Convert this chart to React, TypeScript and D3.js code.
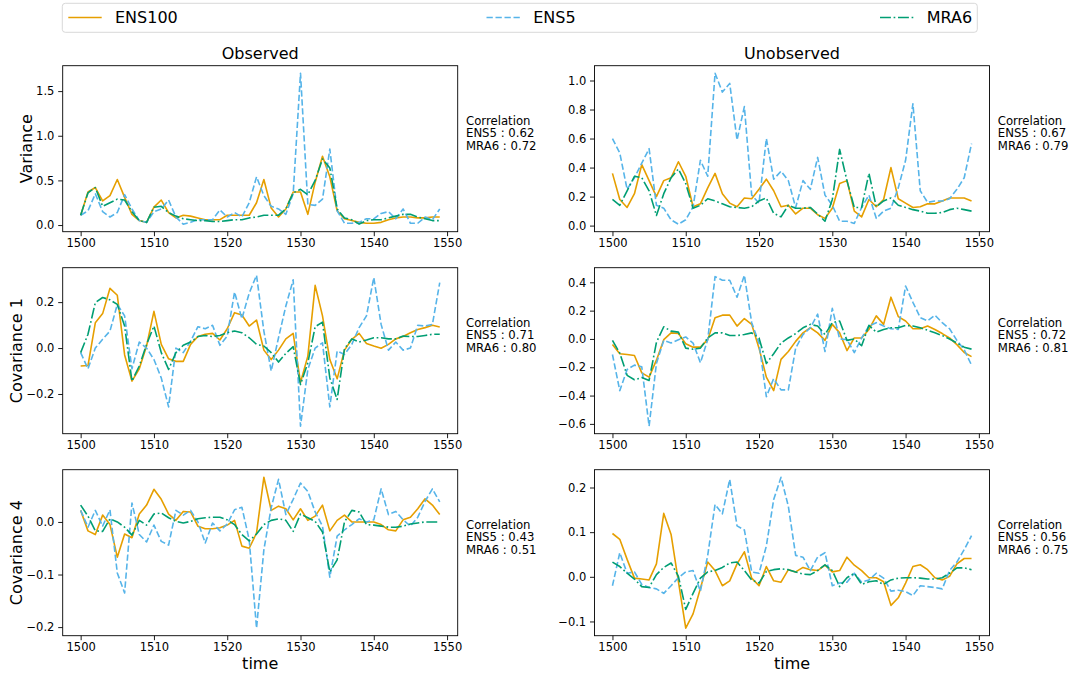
import { axisBottom, axisLeft, extent, format, line, range, scaleLinear, select } from "d3";
import { useEffect, useRef } from "react";

const years = range(1500, 1550);
const xTicks = [1500, 1510, 1520, 1530, 1540, 1550];
const seriesNames = ["ENS100", "ENS5", "MRA6"];
const seriesColors = ["#E69F00", "#56B4E9", "#009E73"];
const seriesDash = ["none", "6.3,2.7", "10.9,2.7,1.7,2.7"];
const rowLabels = ["Variance", "Covariance 1", "Covariance 4"];
const colTitles = ["Observed", "Unobserved"];

// Variance
const obsVarEns100 = [0.11, 0.37, 0.42, 0.27, 0.33, 0.51, 0.31, 0.12, 0.05, 0.03, 0.2, 0.28, 0.14, 0.08, 0.11, 0.1, 0.08, 0.06, 0.06, 0.06, 0.11, 0.11, 0.11, 0.11, 0.25, 0.51, 0.19, 0.09, 0.18, 0.37, 0.37, 0.12, 0.48, 0.77, 0.54, 0.16, 0.07, 0.05, 0.03, 0.02, 0.02, 0.03, 0.06, 0.08, 0.09, 0.09, 0.08, 0.08, 0.09, 0.09];
const obsVarEns5 = [0.11, 0.16, 0.35, 0.15, 0.09, 0.14, 0.34, 0.18, 0.05, 0.03, 0.15, 0.18, 0.28, 0.09, 0.01, 0.03, 0.06, 0.06, 0.06, 0.17, 0.09, 0.14, 0.09, 0.25, 0.54, 0.33, 0.21, 0.18, 0.12, 0.35, 1.7, 0.23, 0.22, 0.29, 0.85, 0.16, 0.02, 0.02, 0.03, 0.07, 0.07, 0.13, 0.15, 0.07, 0.18, 0.02, 0.02, 0.09, 0.06, 0.18];
const obsVarMra6 = [0.11, 0.36, 0.42, 0.21, 0.25, 0.29, 0.28, 0.15, 0.05, 0.03, 0.2, 0.21, 0.14, 0.1, 0.07, 0.06, 0.05, 0.05, 0.04, 0.04, 0.05, 0.06, 0.06, 0.08, 0.09, 0.11, 0.11, 0.11, 0.18, 0.36, 0.4, 0.34, 0.5, 0.74, 0.64, 0.18, 0.08, 0.06, 0.01, 0.05, 0.06, 0.06, 0.08, 0.1, 0.12, 0.12, 0.09, 0.07, 0.05, 0.05];
const unobsVarEns100 = [0.36, 0.18, 0.125, 0.22, 0.42, 0.31, 0.2, 0.31, 0.33, 0.44, 0.34, 0.13, 0.15, 0.26, 0.36, 0.22, 0.155, 0.13, 0.19, 0.185, 0.25, 0.32, 0.24, 0.13, 0.14, 0.08, 0.12, 0.12, 0.075, 0.05, 0.12, 0.29, 0.31, 0.1, 0.06, 0.18, 0.13, 0.18, 0.4, 0.185, 0.155, 0.125, 0.13, 0.15, 0.15, 0.17, 0.19, 0.19, 0.19, 0.17];
const unobsVarEns5 = [0.6, 0.5, 0.25, 0.33, 0.43, 0.53, 0.14, 0.12, 0.04, 0.01, 0.04, 0.13, 0.45, 0.34, 1.05, 0.92, 0.98, 0.59, 0.82, 0.21, 0.155, 0.6, 0.32, 0.375, 0.31, 0.125, 0.31, 0.25, 0.47, 0.21, 0.14, 0.03, 0.03, 0.015, 0.125, 0.21, 0.05, 0.1, 0.12, 0.26, 0.45, 0.84, 0.24, 0.16, 0.17, 0.17, 0.185, 0.25, 0.33, 0.565];
const unobsVarMra6 = [0.18, 0.14, 0.24, 0.34, 0.33, 0.24, 0.07, 0.22, 0.33, 0.39, 0.29, 0.12, 0.14, 0.185, 0.17, 0.15, 0.13, 0.125, 0.12, 0.13, 0.17, 0.19, 0.085, 0.06, 0.14, 0.12, 0.12, 0.125, 0.08, 0.03, 0.18, 0.525, 0.31, 0.125, 0.125, 0.36, 0.13, 0.17, 0.19, 0.14, 0.125, 0.11, 0.1, 0.085, 0.085, 0.09, 0.11, 0.12, 0.11, 0.1];

// Covariance 1
const obsCov1Ens100 = [-0.078, -0.076, 0.11, 0.15, 0.26, 0.23, -0.03, -0.144, -0.09, 0.01, 0.16, 0.016, -0.047, -0.058, -0.058, 0.016, 0.05, 0.06, 0.064, 0.035, 0.084, 0.154, 0.144, 0.096, 0.122, -0.009, -0.05, -0.009, 0.04, 0.064, -0.15, -0.035, 0.273, 0.14, -0.05, -0.134, -0.009, 0.038, 0.064, 0.02, 0.009, -0.001, 0.016, 0.04, 0.05, 0.067, 0.081, 0.089, 0.099, 0.092];
const obsCov1Ens5 = [-0.02, -0.09, 0.0, 0.038, 0.074, 0.19, 0.14, -0.09, 0.026, 0.0, -0.05, -0.13, -0.256, 0.0, -0.02, 0.03, 0.093, 0.084, 0.099, 0.012, 0.052, 0.244, 0.128, 0.239, 0.317, 0.074, -0.1, 0.045, 0.183, 0.297, -0.34, -0.093, 0.0, 0.023, -0.256, -0.013, -0.028, 0.016, 0.089, 0.14, 0.307, 0.103, -0.009, 0.026, -0.009, 0.0, 0.099, 0.096, 0.103, 0.285];
const obsCov1Mra6 = [-0.02, 0.06, 0.198, 0.22, 0.21, 0.19, 0.096, -0.144, -0.078, 0.016, 0.096, -0.02, -0.093, -0.02, 0.012, 0.026, 0.05, 0.055, 0.05, 0.055, 0.067, 0.074, 0.067, 0.045, 0.016, 0.009, -0.02, -0.061, -0.023, 0.006, -0.159, -0.064, 0.093, 0.113, -0.13, -0.224, -0.003, 0.04, 0.026, 0.035, 0.045, 0.045, 0.04, 0.04, 0.052, 0.05, 0.05, 0.055, 0.06, 0.06];
const unobsCov1Ens100 = [-0.04, -0.105, -0.11, -0.117, -0.24, -0.27, -0.15, -0.005, 0.043, 0.038, -0.034, -0.058, -0.058, -0.005, 0.15, 0.168, 0.168, 0.091, 0.144, 0.103, -0.065, -0.27, -0.365, -0.144, -0.089, -0.017, 0.043, 0.079, 0.043, -0.01, 0.103, 0.043, -0.082, 0.007, 0.007, 0.067, 0.163, 0.103, 0.295, 0.158, 0.127, 0.072, 0.072, 0.091, 0.067, 0.038, 0.007, -0.04, -0.096, -0.125];
const unobsCov1Ens5 = [-0.11, -0.365, -0.216, -0.185, -0.197, -0.616, -0.173, -0.01, -0.029, -0.005, 0.014, -0.029, -0.168, -0.005, 0.44, 0.415, 0.415, 0.295, 0.45, 0.115, -0.029, -0.408, -0.28, -0.36, -0.36, -0.065, 0.031, 0.079, 0.175, -0.089, 0.216, 0.0, -0.005, -0.096, 0.007, 0.091, 0.115, 0.091, 0.072, 0.067, 0.374, 0.259, 0.151, 0.127, 0.168, 0.115, 0.072, -0.01, -0.077, -0.185];
const unobsCov1Mra6 = [-0.01, -0.1, -0.257, -0.288, -0.273, -0.293, -0.024, 0.086, 0.055, 0.048, -0.065, -0.072, -0.065, 0.007, 0.043, 0.043, 0.024, 0.024, 0.031, 0.043, 0.007, -0.173, -0.105, -0.029, 0.007, 0.038, 0.079, 0.103, 0.091, 0.031, 0.115, 0.127, -0.01, 0.0, -0.048, 0.096, 0.048, 0.067, 0.079, 0.079, 0.096, 0.091, 0.079, 0.062, 0.043, 0.024, 0.0, -0.029, -0.058, -0.072];

// Covariance 4
const obsCov4Ens100 = [0.022, -0.017, -0.024, 0.013, -0.005, -0.067, -0.023, -0.03, 0.015, 0.032, 0.062, 0.043, 0.015, 0.003, 0.02, 0.019, -0.008, -0.013, -0.013, -0.011, -0.006, 0.003, -0.046, -0.05, -0.021, 0.085, 0.022, 0.03, 0.025, 0.004, 0.025, 0.003, 0.011, 0.032, -0.017, 0.003, 0.013, 0.0, 0.0, 0.0, 0.0, -0.005, -0.015, -0.017, 0.004, 0.009, 0.025, 0.044, 0.032, 0.014];
const obsCov4Ens5 = [0.022, -0.01, 0.022, -0.008, 0.023, -0.097, -0.135, 0.036, -0.024, -0.038, -0.006, -0.037, -0.044, 0.022, 0.013, 0.022, 0.0, -0.04, -0.002, -0.017, -0.004, 0.023, 0.028, -0.034, -0.202, -0.053, 0.027, 0.081, 0.014, 0.043, 0.074, 0.058, 0.019, -0.008, -0.105, -0.027, -0.015, -0.005, 0.006, 0.0, 0.004, 0.063, 0.014, 0.02, 0.004, -0.008, 0.009, 0.039, 0.063, 0.038];
const obsCov4Mra6 = [0.032, 0.011, -0.017, -0.018, 0.006, 0.0, -0.01, -0.025, 0.003, -0.006, 0.015, 0.017, 0.008, 0.001, -0.002, 0.001, 0.006, 0.008, 0.009, 0.009, 0.004, -0.005, -0.024, -0.036, -0.023, -0.005, 0.003, 0.006, 0.003, -0.018, 0.015, 0.008, 0.001, -0.019, -0.095, -0.072, 0.0, 0.022, 0.019, -0.005, -0.006, -0.008, -0.01, -0.01, -0.008, -0.004, -0.002, 0.0, 0.0, 0.0];
const unobsCov4Ens100 = [0.097, 0.084, 0.039, -0.003, -0.005, -0.007, 0.029, 0.142, 0.095, -0.011, -0.115, -0.083, -0.026, 0.033, 0.014, -0.02, -0.009, 0.029, 0.056, -0.003, -0.02, 0.023, -0.009, -0.012, 0.016, 0.011, 0.021, 0.016, 0.014, 0.026, 0.011, 0.014, 0.044, 0.026, 0.014, -0.002, -0.002, -0.011, -0.064, -0.047, -0.014, 0.023, 0.027, 0.016, -0.002, -0.007, 0.001, 0.029, 0.041, 0.041];
const unobsCov4Ens5 = [-0.02, 0.054, 0.008, 0.011, -0.017, -0.024, -0.027, -0.037, -0.02, -0.002, 0.011, 0.014, -0.032, 0.048, 0.162, 0.141, 0.218, 0.114, 0.105, 0.011, 0.008, 0.069, 0.173, 0.223, 0.158, 0.048, 0.044, 0.014, 0.044, 0.054, -0.02, -0.014, -0.012, 0.008, -0.012, -0.007, 0.008, -0.003, -0.032, -0.03, -0.033, -0.042, -0.02, -0.022, -0.024, -0.027, 0.014, 0.033, 0.061, 0.092];
const unobsCov4Mra6 = [0.033, 0.023, 0.008, -0.005, -0.022, -0.024, 0.005, 0.021, 0.031, 0.001, -0.073, -0.037, -0.003, 0.011, 0.014, 0.021, 0.031, 0.033, 0.014, -0.007, -0.014, 0.012, 0.016, 0.018, 0.016, 0.011, 0.006, 0.005, 0.014, 0.027, 0.014, -0.022, -0.002, 0.008, -0.017, -0.011, -0.009, -0.017, -0.007, -0.003, -0.002, -0.002, -0.003, -0.005, -0.005, -0.002, 0.008, 0.02, 0.02, 0.016];

// y tick labels per row / column
const varObsTicks = [0, 0.5, 1.0, 1.5];
const varUnobsTicks = [0, 0.2, 0.4, 0.6, 0.8, 1.0];
const cov1ObsTicks = [-0.2, 0, 0.2];
const cov1UnobsTicks = [-0.6, -0.4, -0.2, 0, 0.2, 0.4];
const cov4ObsTicks = [-0.2, -0.1, 0];
const cov4UnobsTicks = [-0.1, 0, 0.1, 0.2];

// correlation [ENS5, MRA6]
const varObsCorr = [0.62, 0.72];
const varUnobsCorr = [0.67, 0.79];
const cov1ObsCorr = [0.71, 0.8];
const cov1UnobsCorr = [0.72, 0.81];
const cov4ObsCorr = [0.43, 0.51];
const cov4UnobsCorr = [0.56, 0.75];

const FONT = "DejaVu Sans";
const panelW = 395;
const panelH = 166;
const colX = [62.7, 594.5];
const rowY = [65.7, 267.7, 469.7];

type PanelProps = {
  x0: number;
  y0: number;
  series: number[][];
  yTicks: number[];
  corr: number[];
  ylabel?: string;
};

const Panel = ({ x0, y0, series, yTicks, corr, ylabel }: PanelProps) => {
  const ref = useRef<SVGGElement>(null);

  useEffect(() => {
    const g = select(ref.current);
    g.selectAll("*").remove();

    const [ymin, ymax] = extent(series.flat()) as [number, number];
    const yPad = (ymax - ymin) * 0.05;
    const xPad = (years[years.length - 1] - years[0]) * 0.05;

    const xScale = scaleLinear()
      .domain([years[0] - xPad, years[years.length - 1] + xPad])
      .range([0, panelW]);
    const yScale = scaleLinear()
      .domain([ymin - yPad, ymax + yPad])
      .range([panelH, 0]);

    const xAxis = axisBottom(xScale)
      .tickValues(xTicks)
      .tickSize(4.5)
      .tickPadding(2.2)
      .tickFormat((d) => String(d));
    const yAxis = axisLeft(yScale)
      .tickValues(yTicks)
      .tickSize(4.5)
      .tickPadding(3.8)
      .tickFormat((d) => format(".1f")(d as number));

    const xg = g.append("g").attr("transform", `translate(0,${panelH})`).call(xAxis);
    const yg = g.append("g").call(yAxis);
    [xg, yg].forEach((ax) => {
      ax.attr("font-family", FONT).attr("font-size", 11.5);
      ax.select(".domain").remove();
      ax.selectAll("line").attr("stroke", "#000").attr("stroke-width", 0.9);
      ax.selectAll("text").attr("fill", "#000");
    });

    const generateLine = line<number>()
      .x((_, i) => xScale(years[i]))
      .y((d) => yScale(d));

    series.forEach((vals, i) => {
      g.append("path")
        .attr("d", generateLine(vals))
        .attr("fill", "none")
        .attr("stroke", seriesColors[i])
        .attr("stroke-width", 1.6)
        .attr("stroke-dasharray", seriesDash[i])
        .attr("stroke-linejoin", "round");
    });

    g.append("rect")
      .attr("width", panelW)
      .attr("height", panelH)
      .attr("fill", "none")
      .attr("stroke", "#000")
      .attr("stroke-width", 0.9);

    // y label sits left of the widest tick label, like matplotlib
    if (ylabel) {
      const node = yg.node() as SVGGElement;
      const left = node.getBBox().x;
      g.append("text")
        .attr("transform", `translate(${left - 4},${panelH / 2}) rotate(-90)`)
        .attr("text-anchor", "middle")
        .attr("font-family", FONT)
        .attr("font-size", 16)
        .attr("fill", "#000")
        .text(ylabel);
    }

    const corrText = g
      .append("text")
      .attr("font-family", FONT)
      .attr("font-size", 11.7)
      .attr("fill", "#000");
    const lines = [
      "Correlation",
      `${seriesNames[1]} : ${corr[0].toFixed(2)}`,
      `${seriesNames[2]} : ${corr[1].toFixed(2)}`,
    ];
    lines.forEach((t, i) => {
      corrText
        .append("tspan")
        .attr("x", panelW + 8.3)
        .attr("y", 59.3 + i * 12.5)
        .text(t);
    });
  }, [series, yTicks, corr, ylabel]);

  return <g ref={ref} transform={`translate(${x0},${y0})`} />;
};

const panels = [
  { row: 0, col: 0, series: [obsVarEns100, obsVarEns5, obsVarMra6], yTicks: varObsTicks, corr: varObsCorr },
  { row: 0, col: 1, series: [unobsVarEns100, unobsVarEns5, unobsVarMra6], yTicks: varUnobsTicks, corr: varUnobsCorr },
  { row: 1, col: 0, series: [obsCov1Ens100, obsCov1Ens5, obsCov1Mra6], yTicks: cov1ObsTicks, corr: cov1ObsCorr },
  { row: 1, col: 1, series: [unobsCov1Ens100, unobsCov1Ens5, unobsCov1Mra6], yTicks: cov1UnobsTicks, corr: cov1UnobsCorr },
  { row: 2, col: 0, series: [obsCov4Ens100, obsCov4Ens5, obsCov4Mra6], yTicks: cov4ObsTicks, corr: cov4ObsCorr },
  { row: 2, col: 1, series: [unobsCov4Ens100, unobsCov4Ens5, unobsCov4Mra6], yTicks: cov4UnobsTicks, corr: cov4UnobsCorr },
];

const legendX = [68.3, 486.5, 880];

const App = () => {
  return (
    <svg
      width={1081}
      height={675}
      viewBox="0 0 1081 675"
      style={{ position: "absolute", left: 0, top: 0, background: "#fff" }}
    >
      <rect width={1081} height={675} fill="#fff" />
      {/* legend */}
      <rect x={62.3} y={3.3} width={915} height={29} rx={3} fill="#fff" stroke="#d4d4d4" strokeWidth={0.9} />
      {seriesNames.map((name, i) => (
        <g key={name}>
          <line
            x1={legendX[i]}
            x2={legendX[i] + 33.4}
            y1={17.5}
            y2={17.5}
            stroke={seriesColors[i]}
            strokeWidth={1.6}
            strokeDasharray={seriesDash[i]}
          />
          <text x={legendX[i] + 46.7} y={23.3} fontFamily={FONT} fontSize={16} fill="#000">
            {name}
          </text>
        </g>
      ))}
      {colTitles.map((t, c) => (
        <text key={t} x={colX[c] + panelW / 2} y={59} textAnchor="middle" fontFamily={FONT} fontSize={16}>
          {t}
        </text>
      ))}
      {colX.map((x, c) => (
        <text key={c} x={x + panelW / 2} y={669} textAnchor="middle" fontFamily={FONT} fontSize={16}>
          time
        </text>
      ))}
      {panels.map((p) => (
        <Panel
          key={`${p.row}-${p.col}`}
          x0={colX[p.col]}
          y0={rowY[p.row]}
          series={p.series}
          yTicks={p.yTicks}
          corr={p.corr}
          ylabel={p.col === 0 ? rowLabels[p.row] : undefined}
        />
      ))}
    </svg>
  );
};

export default App;
